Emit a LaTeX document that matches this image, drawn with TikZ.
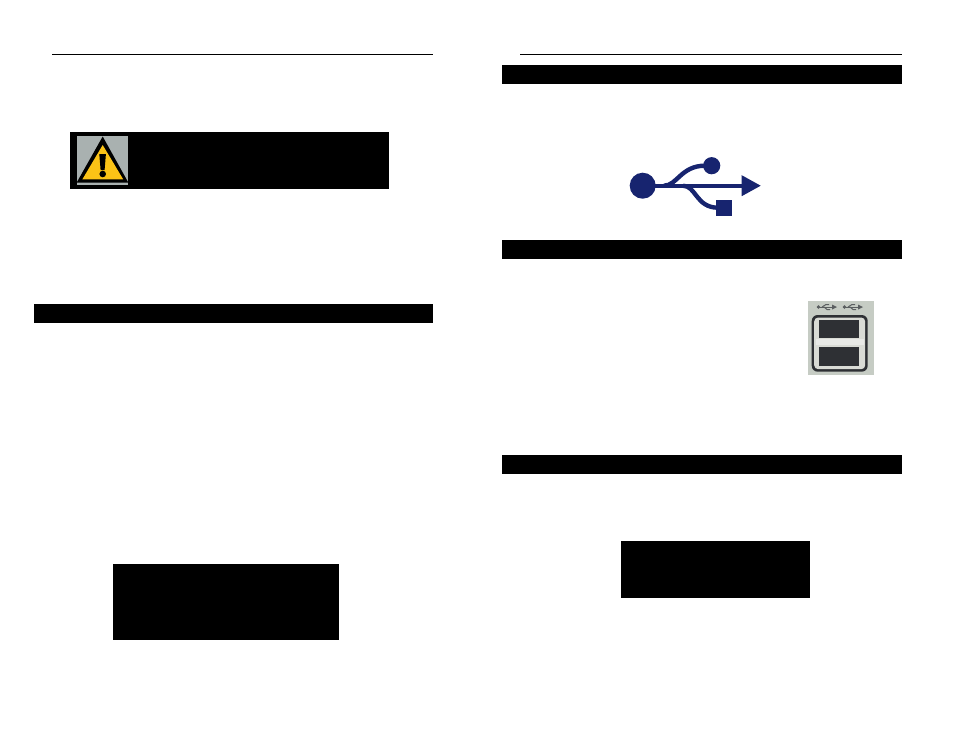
\documentclass[tikz,border=0pt]{standalone}
\usepackage{tikz}
\usetikzlibrary{positioning}

\definecolor{usbblue}{HTML}{17246F}
\definecolor{warngrey}{HTML}{A9B1B0}
\definecolor{warnyellow}{HTML}{FBC316}
\definecolor{portgrey}{HTML}{C6CCC4}
\definecolor{portdark}{HTML}{2E3034}
\definecolor{portlight}{HTML}{D9DBD5}
\definecolor{portglyph}{HTML}{5A5E60}

\begin{document}
\begin{tikzpicture}[
    x=1pt, y=-1pt,
    rulerline/.style={draw=black, line width=0.8pt},
    blackbar/.style={rectangle, fill=black, inner sep=0pt, minimum height=19pt},
    blackbox/.style={rectangle, fill=black, inner sep=0pt},
    usbline/.style={draw=usbblue, line width=4.4pt},
    portline/.style={draw=portglyph, line width=1pt}
]
\useasboundingbox (0,0) rectangle (954,737);

% Header rules
\draw[rulerline] (52,54.5) -- (433,54.5);
\draw[rulerline] (520,54.5) -- (902,54.5);

% Section bars
\node[blackbar, minimum width=399pt] (barleft) at (233.5,313.5) {};
\node[blackbar, minimum width=400pt] (barusb) at (702,74.5) {};
\node[blackbar, minimum width=400pt] (barport) at (702,249.5) {};
\node[blackbar, minimum width=400pt] (barlast) at (702,464.5) {};

% Black boxes
\node[blackbox, minimum width=319pt, minimum height=57pt] (warnbox) at (229.5,160.5) {};
\node[blackbox, minimum width=226pt, minimum height=76pt] (noteleft) at (226,602) {};
\node[blackbox, minimum width=189pt, minimum height=57pt] (noteright) at (715.5,569.5) {};

% Warning icon
\fill[warngrey] (76.7,135.7) rectangle (128.3,185);
\fill[black] (102.7,136.5) -- (128.3,182.5) -- (76.7,182.5) -- cycle;
\fill[warnyellow] (102.7,145) -- (123.2,179.3) -- (82.4,179.3) -- cycle;
\fill[black] (99.3,154) -- (105.9,154) -- (104.6,170) -- (100.6,170) -- cycle;
\fill[black] (102.7,174) circle (3.3);

% USB symbol
\fill[usbblue] (642.7,185.7) circle (13);
\draw[usbline] (650,185.7) -- (743,185.7);
\fill[usbblue] (741.7,175.2) -- (760.7,185.7) -- (741.7,196.2) -- cycle;
\draw[usbline] (664,185.7) .. controls (677,185.7) and (681,165.7) .. (705,165.7);
\draw[usbline] (683,185.7) .. controls (696,185.7) and (696,207.7) .. (718,207.7);
\fill[usbblue] (711.7,165.7) circle (8.6);
\fill[usbblue] (716,200) rectangle (732,216);

% USB ports photo
\fill[portgrey] (808.3,301) rectangle (874,375);
\fill[portdark, rounded corners=6pt] (811.7,315) rectangle (867.7,371.7);
\fill[portlight, rounded corners=4pt] (814.2,317.5) rectangle (865.2,369.2);
\fill[portdark] (819,319.5) rectangle (858.5,337.5);
\fill[portdark] (819,347) rectangle (858.5,366);
\fill[portlight!60!white] (816,339) rectangle (864,345);
\foreach \px in {817,843} {
    \draw[portline] (\px,307) -- (\px+17,307);
    \draw[portline] (\px+5,307) -- (\px+9,304.5) -- (\px+12,304.5);
    \draw[portline] (\px+7,307) -- (\px+10,309.5) -- (\px+13,309.5);
    \fill[portglyph] (\px+1.5,307) circle (1.8);
    \fill[portglyph] (\px+15,304.5) -- (\px+20,307) -- (\px+15,309.5) -- cycle;
}

\end{tikzpicture}
\end{document}
